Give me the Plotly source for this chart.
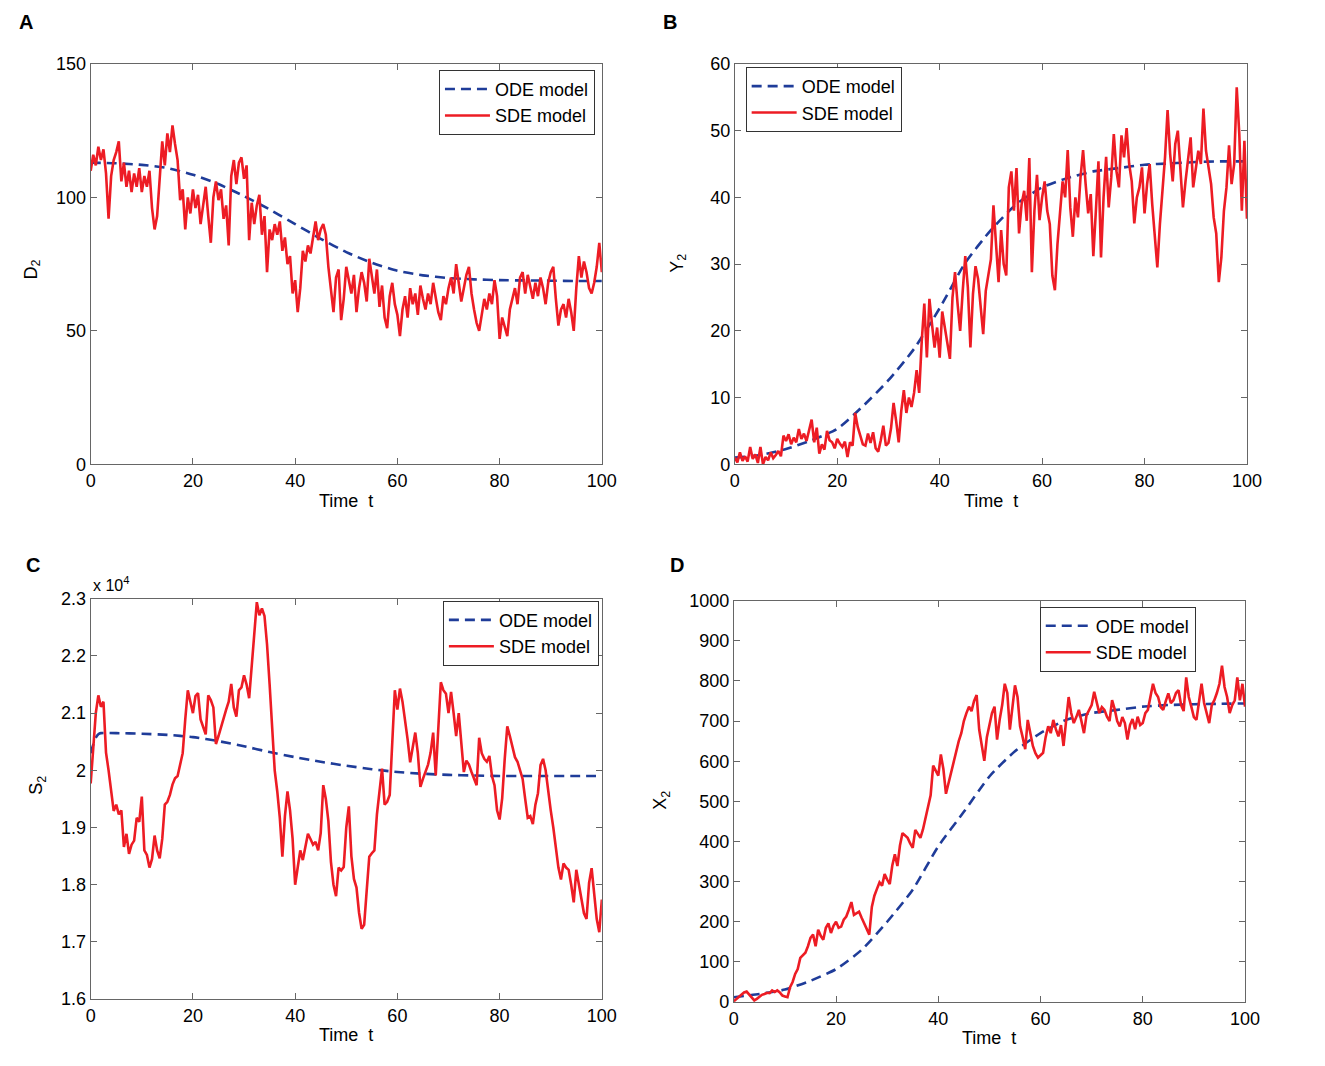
import plotly.graph_objects as go

# ---------------- data ----------------
t_sde = [i * 0.5 for i in range(201)]
t_ode = [0, 5, 10, 15, 20, 25, 30, 35, 40, 45, 50, 55, 60, 65, 70, 75, 80, 85, 90, 95, 100]
t_ode_c = [0, 0.5, 1, 1.5, 2, 5, 10, 15, 20, 25, 30, 35, 40, 45, 50, 55, 60, 65, 70, 75, 80, 85, 90, 95, 100]

ode_d2 = [113, 112.8, 112.2, 111, 108.5, 105, 100.5, 95.5, 90, 84.5, 79.5, 75.5, 72.5,
          70.8, 69.8, 69.3, 69, 68.9, 68.8, 68.7, 68.7]
sde_d2 = [
    110, 116, 112, 119, 114, 118, 109, 92, 108, 114,
    117, 121, 106, 113, 104, 110, 102, 109, 104, 111,
    102, 108, 104, 110, 96, 88, 93, 109, 121, 112,
    124, 117, 127, 120, 114, 99, 103, 88, 100, 94,
    103, 96, 101, 90, 98, 104, 93, 83, 100, 106,
    99, 103, 92, 97, 82, 108, 114, 105, 113, 115,
    107, 112, 84, 98, 90, 97, 101, 86, 93, 72,
    88, 84, 90, 86, 91, 80, 85, 75, 78, 64,
    69, 57, 66, 80, 76, 82, 79, 86, 91, 84,
    88, 90, 86, 74, 65, 57, 70, 73, 54, 62,
    74, 69, 64, 71, 57, 66, 72, 68, 61, 77,
    70, 64, 73, 59, 67, 55, 51, 63, 68, 60,
    56, 48, 58, 63, 55, 66, 60, 64, 56, 67,
    62, 58, 64, 60, 68, 62, 57, 54, 63, 60,
    66, 70, 64, 75, 68, 61, 66, 71, 74, 64,
    58, 53, 50, 57, 62, 58, 64, 60, 69, 63,
    47, 55, 51, 48, 58, 62, 66, 60, 70, 72,
    64, 71, 66, 62, 68, 63, 70, 66, 60, 68,
    72, 74, 62, 52, 58, 60, 55, 62, 57, 50,
    66, 78, 70, 76, 72, 66, 64, 68, 74, 83,
    72]

ode_y2 = [1.0, 1.4, 2.3, 3.6, 5.3, 8.7, 12.6, 17.3, 23.4, 30.2, 35.1, 39, 41.5, 42.9,
          43.9, 44.4, 44.9, 45.1, 45.3, 45.4, 45.4]
sde_y2 = [
    1.0, 0.3, 1.8, 0.5, 1.2, 0.4, 2.6, 0.8, 1.5, 0.2,
    2.6, 0.0, 1.1, 0.6, 1.8, 0.9, 1.4, 2.0, 1.2, 4.3,
    3.5, 4.5, 3.0, 4.0, 3.3, 5.3, 3.8, 4.6, 3.5, 5.0,
    6.7, 3.3, 5.5, 1.6, 3.0, 2.2, 5.0, 3.6, 3.3, 2.4,
    3.8, 3.1, 2.6, 3.4, 1.1, 3.3, 2.8, 7.7, 5.6, 4.3,
    3.0, 2.8, 4.6, 3.2, 4.8, 2.4, 1.9, 3.6, 5.8, 2.8,
    3.2, 5.4, 9.2, 6.5, 3.3, 8.0, 11.1, 7.7, 10.0, 8.6,
    10.7, 14.1, 10.7, 18.5, 24.1, 16.0, 24.8, 21.0, 17.5, 20.5,
    16.0, 22.9, 20.4, 18.0, 15.8, 25.0, 28.8, 24.0, 20.0, 26.0,
    31.2, 26.5, 17.5, 25.5, 29.7, 27.8, 24.0, 19.5, 26.0, 28.5,
    30.7, 38.8, 33.0, 27.3, 35.1, 30.0, 28.3, 41.5, 43.9, 38.0,
    44.4, 34.6, 39.0, 41.0, 36.5, 45.9, 28.8, 38.0, 43.4, 36.6,
    40.0, 42.4, 38.0, 36.0, 28.3, 26.1, 33.0, 38.5, 42.4, 40.0,
    47.1, 38.5, 34.1, 40.0, 37.0, 43.0, 47.1, 42.0, 37.6, 40.5,
    31.2, 38.0, 45.4, 31.0, 40.0, 46.1, 38.5, 43.0, 49.5, 44.0,
    41.5, 49.3, 46.0, 50.4, 45.0, 42.4, 36.1, 40.0, 41.5, 44.5,
    37.6, 42.0, 45.0, 39.0, 34.6, 29.5, 36.0, 41.0, 46.0, 53.1,
    46.5, 42.4, 48.0, 50.0, 44.0, 38.5, 42.4, 45.5, 49.0, 41.5,
    44.0, 47.0, 45.0, 53.3, 47.0, 44.5, 42.0, 37.0, 34.6, 27.3,
    31.0, 38.0, 41.5, 47.8, 42.0, 45.0, 56.5, 49.5, 38.0, 48.5,
    36.8]

# S2 values in units of 10^4
ode_s2 = [2.03, 2.045, 2.057, 2.063, 2.065, 2.065, 2.064, 2.062, 2.058, 2.051, 2.042, 2.032,
          2.023, 2.015, 2.008, 2.002, 1.997, 1.994, 1.992, 1.991, 1.99, 1.99, 1.99, 1.99, 1.99]
sde_s2 = [
    1.977, 2.031, 2.100, 2.131, 2.111, 2.120, 2.031, 2.000, 1.960, 1.929,
    1.940, 1.923, 1.930, 1.866, 1.889, 1.854, 1.870, 1.877, 1.917, 1.910,
    1.954, 1.860, 1.852, 1.830, 1.845, 1.886, 1.860, 1.846, 1.880, 1.940,
    1.945, 1.957, 1.975, 1.986, 1.990, 2.009, 2.030, 2.089, 2.140, 2.120,
    2.100, 2.130, 2.135, 2.089, 2.075, 2.063, 2.131, 2.123, 2.110, 2.046,
    2.060, 2.077, 2.090, 2.106, 2.120, 2.151, 2.110, 2.094, 2.140, 2.145,
    2.166, 2.150, 2.126, 2.180, 2.231, 2.294, 2.271, 2.283, 2.270, 2.220,
    2.151, 2.080, 2.000, 1.963, 1.917, 1.849, 1.920, 1.963, 1.930, 1.880,
    1.800, 1.830, 1.860, 1.843, 1.870, 1.889, 1.880, 1.870, 1.875, 1.860,
    1.890, 1.974, 1.950, 1.911, 1.840, 1.800, 1.780, 1.830, 1.825, 1.831,
    1.900, 1.937, 1.850, 1.810, 1.795, 1.751, 1.723, 1.730, 1.790, 1.849,
    1.855, 1.860, 1.923, 1.960, 2.003, 1.940, 1.945, 1.957, 2.050, 2.140,
    2.106, 2.143, 2.120, 2.089, 2.054, 2.014, 2.040, 2.066, 2.030, 1.971,
    1.985, 1.997, 2.010, 2.031, 2.066, 1.991, 2.080, 2.154, 2.140, 2.134,
    2.100, 2.137, 2.100, 2.060, 2.100, 2.040, 1.997, 2.017, 2.010, 1.997,
    1.985, 1.974, 2.057, 2.030, 2.020, 2.015, 2.025, 1.990, 1.974, 1.930,
    1.914, 1.951, 2.020, 2.077, 2.060, 2.040, 2.023, 2.015, 2.000, 1.985,
    1.950, 1.917, 1.920, 1.906, 1.940, 1.960, 2.009, 2.020, 2.000, 1.963,
    1.930, 1.900, 1.860, 1.830, 1.809, 1.837, 1.830, 1.826, 1.800, 1.769,
    1.826, 1.800, 1.774, 1.750, 1.740, 1.803, 1.829, 1.790, 1.740, 1.717,
    1.774]

ode_x2 = [12, 20, 31, 53, 82, 130, 200, 280, 388, 474, 562, 625, 670, 703, 720, 728, 736,
          740, 742, 743, 744]
sde_x2 = [
    2, 8, 12, 18, 24, 26, 18, 10, 4, 8,
    14, 18, 20, 23, 22, 29, 25, 29, 24, 16,
    14, 12, 37, 50, 70, 82, 110, 118, 123, 139,
    160, 168, 139, 180, 165, 155, 185, 196, 172, 190,
    200, 185, 188, 205, 213, 230, 249, 217, 222, 225,
    210, 196, 180, 168, 237, 265, 282, 298, 290, 319,
    305, 294, 340, 368, 339, 390, 421, 415, 409, 395,
    384, 429, 420, 409, 430, 458, 480, 515, 589, 575,
    564, 617, 580, 519, 545, 572, 600, 621, 650, 670,
    700, 720, 736, 725, 750, 765, 679, 640, 601, 660,
    695, 720, 736, 654, 703, 740, 793, 770, 679, 740,
    789, 760, 687, 660, 630, 703, 665, 638, 620, 609,
    615, 621, 660, 687, 670, 703, 680, 662, 690, 638,
    700, 760, 720, 695, 710, 728, 700, 670, 715, 728,
    740, 773, 745, 720, 735, 728, 711, 700, 752, 730,
    700, 687, 710, 695, 654, 690, 705, 680, 711, 690,
    695, 720, 728, 760, 793, 770, 760, 735, 728, 750,
    769, 745, 752, 770, 777, 740, 725, 809, 760, 736,
    710, 703, 750, 793, 745, 720, 695, 740, 752, 770,
    793, 838, 785, 760, 720, 740, 752, 809, 752, 793,
    736]

x_ticks = [0, 20, 40, 60, 80, 100]
panel_letters = ["A", "B", "C", "D"]
y_titles = ["D<sub>2</sub>", "Y<sub>2</sub>", "S<sub>2</sub>", "X<sub>2</sub>"]
x_title = "Time  t"
legend_names = ["ODE model", "SDE model"]

# ---------------- figure ----------------
W, H = 1325, 1066   # reference canvas, used for paper fractions
RED = "#ED1C24"
BLUE = "#1F3C99"
AX = "#666666"
FONT = "Liberation Sans, Arial, Helvetica, sans-serif"
FS = 18

def px(x):
    return x / W

def py(y):
    return 1 - y / H

panels = [
    dict(ode_t=t_ode, ode=ode_d2, sde=sde_d2, xd=(87, 606), yd=(55, 463), yr=[0, 150], dt=50),
    dict(ode_t=t_ode, ode=ode_y2, sde=sde_y2, xd=(741, 1261), yd=(55, 463), yr=[0, 60], dt=10),
    dict(ode_t=t_ode_c, ode=ode_s2, sde=sde_s2, xd=(87, 606), yd=(600, 1008), yr=[1.6, 2.3], dt=0.1),
    dict(ode_t=t_ode, ode=ode_x2, sde=sde_x2, xd=(740, 1259), yd=(602, 1011), yr=[0, 1000], dt=100),
]
legend_pos = [
    dict(x=px(599), y=py(61), xanchor="right"),
    dict(x=px(752), y=py(58), xanchor="left"),
    dict(x=px(603), y=py(602), xanchor="right"),
    dict(x=px(1209), y=py(608), xanchor="right"),
]

fig = go.Figure()
layout = dict(
    width=W, height=H, margin=dict(l=0, r=0, t=0, b=0, pad=0),
    paper_bgcolor="white", plot_bgcolor="white",
    font=dict(family=FONT, size=FS, color="black"),
    annotations=[],
)

for i, p in enumerate(panels):
    n = "" if i == 0 else str(i + 1)
    xa, ya = "x" + n, "y" + n
    lg = "legend" + n
    fig.add_trace(go.Scatter(
        x=p["ode_t"], y=p["ode"], mode="lines", name=legend_names[0],
        line=dict(color=BLUE, width=2.6, dash="10px,6px", shape="spline", smoothing=0.6),
        xaxis=xa, yaxis=ya, legend=lg))
    fig.add_trace(go.Scatter(
        x=t_sde, y=p["sde"], mode="lines", name=legend_names[1],
        line=dict(color=RED, width=2.6),
        xaxis=xa, yaxis=ya, legend=lg))

    common = dict(ticks="inside", ticklen=6, tickcolor=AX, tickwidth=1,
                  showline=True, linecolor=AX, linewidth=1, mirror="ticks",
                  showgrid=False, zeroline=False,
                  tickfont=dict(size=FS, color="black", family=FONT))
    layout["xaxis" + n] = dict(domain=[px(p["xd"][0]), px(p["xd"][1])], range=[0, 100],
                               tickvals=x_ticks, anchor=ya, **common)
    layout["yaxis" + n] = dict(domain=[py(p["yd"][1]), py(p["yd"][0])], range=p["yr"],
                               dtick=p["dt"], tick0=p["yr"][0], anchor=xa, **common)
    layout[lg] = dict(yanchor="top", bgcolor="white", bordercolor="#333333", borderwidth=1,
                      font=dict(size=FS, family=FONT), tracegroupgap=0,
                      itemwidth=45, **legend_pos[i])

    xc = (p["xd"][0] + p["xd"][1]) / 2
    layout["annotations"].append(dict(
        x=px(xc), y=py(p["yd"][1] + 37), xref="paper", yref="paper", text=x_title,
        showarrow=False, font=dict(size=FS), xanchor="center", yanchor="middle"))

# panel letters
for letter, (lx, ly) in zip(panel_letters, [(21, 12), (675, 12), (28, 566), (682, 566)]):
    layout["annotations"].append(dict(
        x=px(lx), y=py(ly), xref="paper", yref="paper", text="<b>%s</b>" % letter,
        showarrow=False, font=dict(size=20), xanchor="center", yanchor="middle"))

# y titles
for title, (tx, ty) in zip(y_titles, [(27, 265), (683, 258), (33, 790), (667, 805)]):
    layout["annotations"].append(dict(
        x=px(tx), y=py(ty), xref="paper", yref="paper", text=title, textangle=-90,
        showarrow=False, font=dict(size=FS), xanchor="center", yanchor="middle"))

# exponent label for S2
layout["annotations"].append(dict(
    x=px(87), y=py(585), xref="paper", yref="paper", text="x 10<sup>4</sup>",
    showarrow=False, font=dict(size=16), xanchor="left", yanchor="middle"))

fig.update_layout(**layout)
fig.write_html(
    "out.html",
    config={"displayModeBar": False},
    post_script="document.body.style.margin='0';document.body.style.overflow='hidden';",
)
